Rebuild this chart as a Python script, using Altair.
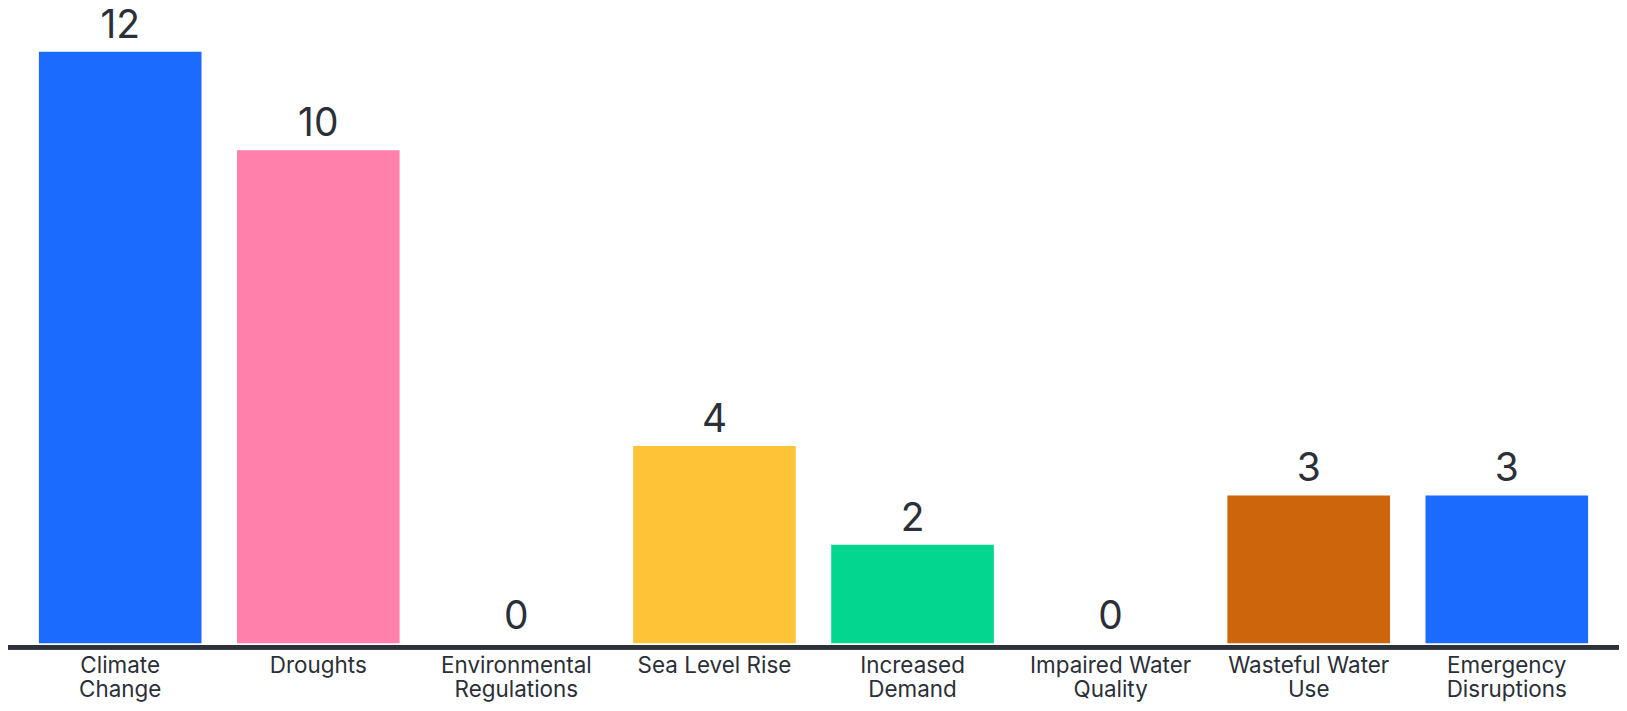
import altair as alt
import pandas as pd

categories = ["Climate Change", "Droughts", "Environmental Regulations", "Sea Level Rise",
              "Increased Demand", "Impaired Water Quality", "Wasteful Water Use", "Emergency Disruptions"]
labels = ["Climate\nChange", "Droughts", "Environmental\nRegulations", "Sea Level Rise",
          "Increased\nDemand", "Impaired Water\nQuality", "Wasteful Water\nUse", "Emergency\nDisruptions"]
values = [12, 10, 0, 4, 2, 0, 3, 3]
colors = ["#1b6bff", "#ff80aa", "#1b6bff", "#fdc437", "#03d68f", "#1b6bff", "#cc650b", "#1b6bff"]

df = pd.DataFrame({"cat": categories, "label": labels, "value": values})

W, H = 1615, 636
FONT = "Inter"
TXT = "#2b2f38"

x = alt.X("cat:N", sort=categories,
          scale=alt.Scale(paddingInner=0.179, paddingOuter=0.156), axis=None)
y = alt.Y("value:Q", scale=alt.Scale(domain=[0, 12.87], nice=False, zero=True), axis=None)

bars = alt.Chart(df).mark_bar().encode(
    x=x, y=y,
    color=alt.Color("cat:N", scale=alt.Scale(domain=categories, range=colors), legend=None),
)

vals = alt.Chart(df).mark_text(font=FONT, fontSize=39, color=TXT, baseline="alphabetic", dy=-14).encode(
    x=x, y=y, text="value:Q"
)

xlabels = alt.Chart(df).mark_text(font=FONT, fontSize=22.5, color=TXT, baseline="alphabetic",
                                  lineBreak="\n", lineHeight=24).encode(
    x=x, y=alt.value(666), text="label:N"
)

axis_line = alt.Chart(df).mark_rule(color="#2c313a", strokeWidth=4).encode(
    x=alt.value(-3), x2=alt.value(W), y=alt.value(640)
)

chart = alt.layer(bars, vals, axis_line, xlabels).properties(
    width=W, height=H,
    autosize=alt.AutoSizeParams(type="none"),
    padding={"left": 0, "top": 0, "right": 0, "bottom": 67},
).configure_view(stroke=None)

chart.save("out.html", embed_options={"renderer": "svg", "actions": False})
